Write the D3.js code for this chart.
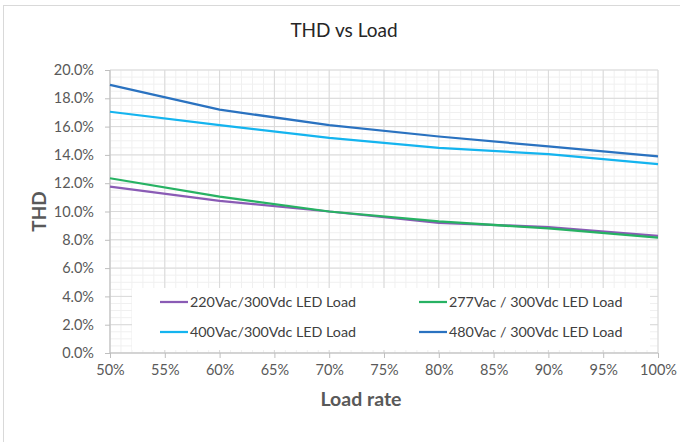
<!DOCTYPE html>
<html>
<head>
<meta charset="utf-8">
<script src="https://cdn.jsdelivr.net/npm/d3@7"></script>
<style>
  body { margin: 0; background: #fff; }
  text { font-family: Lato, "Open Sans", sans-serif; }
</style>
</head>
<body>
<svg id="chart"></svg>
<script>
// load rate points (x) and THD per series
const loadRate = [0.5, 0.6, 0.7, 0.8, 0.9, 1.0];
const thd220 = [0.1175, 0.1075, 0.100, 0.0920, 0.0890, 0.0828];
const thd277 = [0.1235, 0.1105, 0.1000, 0.0930, 0.0880, 0.0815];
const thd400 = [0.1705, 0.1610, 0.1520, 0.1450, 0.1405, 0.1335];
const thd480 = [0.1895, 0.1720, 0.1610, 0.1530, 0.1460, 0.1390];

const seriesNames = ["220Vac/300Vdc LED Load", "277Vac / 300Vdc LED Load",
                     "400Vac/300Vdc LED Load", "480Vac / 300Vdc LED Load"];
const seriesColors = ["#8a5bb5", "#27b263", "#14b4ef", "#2a72c0"];

const xTicks = [0.5, 0.55, 0.6, 0.65, 0.7, 0.75, 0.8, 0.85, 0.9, 0.95, 1.0];
const yTicks = [0, 0.02, 0.04, 0.06, 0.08, 0.1, 0.12, 0.14, 0.16, 0.18, 0.2];

function drawChart() {
    var svgWidth = 680, svgHeight = 442;
    var margin = { top: 70, right: 22, bottom: 89, left: 110 };
    var width = svgWidth - margin.left - margin.right;
    var height = svgHeight - margin.top - margin.bottom;

    var svg = d3.select("#chart")
        .attr("width", svgWidth)
        .attr("height", svgHeight);

    // chart area border
    svg.append("rect")
        .attr("x", 3.5).attr("y", 5.5)
        .attr("width", 700).attr("height", 460)
        .attr("fill", "#fff")
        .attr("stroke", "#d9d9d9");

    svg.append("text")
        .attr("x", svgWidth / 2 + 4)
        .attr("y", 37)
        .attr("text-anchor", "middle")
        .attr("font-size", 19)
        .attr("fill", "#262626")
        .text("THD vs Load");

    var g = svg.append("g")
        .attr("transform", "translate(" + margin.left + "," + margin.top + ")");

    var x = d3.scaleLinear().domain([0.5, 1]).range([0, width]);
    var y = d3.scaleLinear().domain([0, 0.2]).range([height, 0]);

    // minor grid
    var xMinor = d3.range(50, 101).map(function (d) { return d / 100; });
    var yMinor = d3.range(0, 41).map(function (d) { return d * 0.005; });
    g.append("g").selectAll("line").data(xMinor).join("line")
        .attr("x1", function (d) { return x(d); }).attr("x2", function (d) { return x(d); })
        .attr("y1", 0).attr("y2", height)
        .attr("stroke", "#f0f0f0");
    g.append("g").selectAll("line").data(yMinor).join("line")
        .attr("y1", function (d) { return y(d); }).attr("y2", function (d) { return y(d); })
        .attr("x1", 0).attr("x2", width)
        .attr("stroke", "#f0f0f0");

    // major grid
    g.append("g").selectAll("line").data(xTicks).join("line")
        .attr("x1", function (d) { return x(d); }).attr("x2", function (d) { return x(d); })
        .attr("y1", 0).attr("y2", height)
        .attr("stroke", "#d9d9d9");
    g.append("g").selectAll("line").data(yTicks).join("line")
        .attr("y1", function (d) { return y(d); }).attr("y2", function (d) { return y(d); })
        .attr("x1", 0).attr("x2", width)
        .attr("stroke", "#d9d9d9");

    // axes
    var xAxis = g.append("g")
        .attr("transform", "translate(0," + height + ")")
        .call(d3.axisBottom(x).tickValues(xTicks).tickFormat(d3.format(".0%")).tickSize(5).tickPadding(7));
    var yAxis = g.append("g")
        .call(d3.axisLeft(y).tickValues(yTicks).tickFormat(d3.format(".1%")).tickSize(5).tickPadding(11));
    [xAxis, yAxis].forEach(function (a) {
        a.select(".domain").attr("stroke", "#bfbfbf").attr("stroke-width", 1);
        a.selectAll(".tick line").attr("stroke", "#bfbfbf");
        a.selectAll(".tick text")
            .attr("fill", "#595959")
            .attr("font-size", 14.5)
            .style("font-family", "Lato, 'Open Sans', sans-serif");
    });
    xAxis.select(".domain").attr("d", "M0,0H" + width);
    yAxis.select(".domain").attr("d", "M0," + height + "V0");

    // legend box (drawn over grid, under lines)
    var legend = g.append("g");
    legend.append("rect")
        .attr("x", 22).attr("y", 218)
        .attr("width", 518).attr("height", 62)
        .attr("fill", "#fff");

    var line = d3.line()
        .x(function (d, i) { return x(loadRate[i]); })
        .y(function (d) { return y(d); });

    var allSeries = [thd220, thd277, thd400, thd480];
    g.append("g").selectAll("path").data(allSeries).join("path")
        .attr("fill", "none")
        .attr("stroke", function (d, i) { return seriesColors[i]; })
        .attr("stroke-width", 2.25)
        .attr("stroke-linejoin", "round")
        .attr("d", line);

    var items = legend.selectAll("g.item").data(seriesNames).join("g")
        .attr("class", "item")
        .attr("transform", function (d, i) {
            return "translate(" + (i % 2 === 0 ? 50 : 309) + "," + (i < 2 ? 232 : 262) + ")";
        });
    items.append("line")
        .attr("x1", 0).attr("x2", 28)
        .attr("stroke", function (d, i) { return seriesColors[i]; })
        .attr("stroke-width", 2.25);
    items.append("text")
        .attr("x", 30).attr("y", 5)
        .attr("font-size", 14.3)
        .attr("fill", "#404040")
        .text(function (d) { return d; });

    // axis titles
    svg.append("text")
        .attr("x", 361)
        .attr("y", 406)
        .attr("text-anchor", "middle")
        .attr("font-size", 19.5)
        .attr("font-weight", "bold")
        .attr("fill", "#595959")
        .text("Load rate");

    svg.append("text")
        .attr("transform", "translate(46," + (margin.top + height / 2) + ") rotate(-90)")
        .attr("text-anchor", "middle")
        .attr("font-size", 19)
        .attr("font-weight", "bold")
        .attr("fill", "#595959")
        .text("THD");
}

drawChart();
</script>
</body>
</html>
